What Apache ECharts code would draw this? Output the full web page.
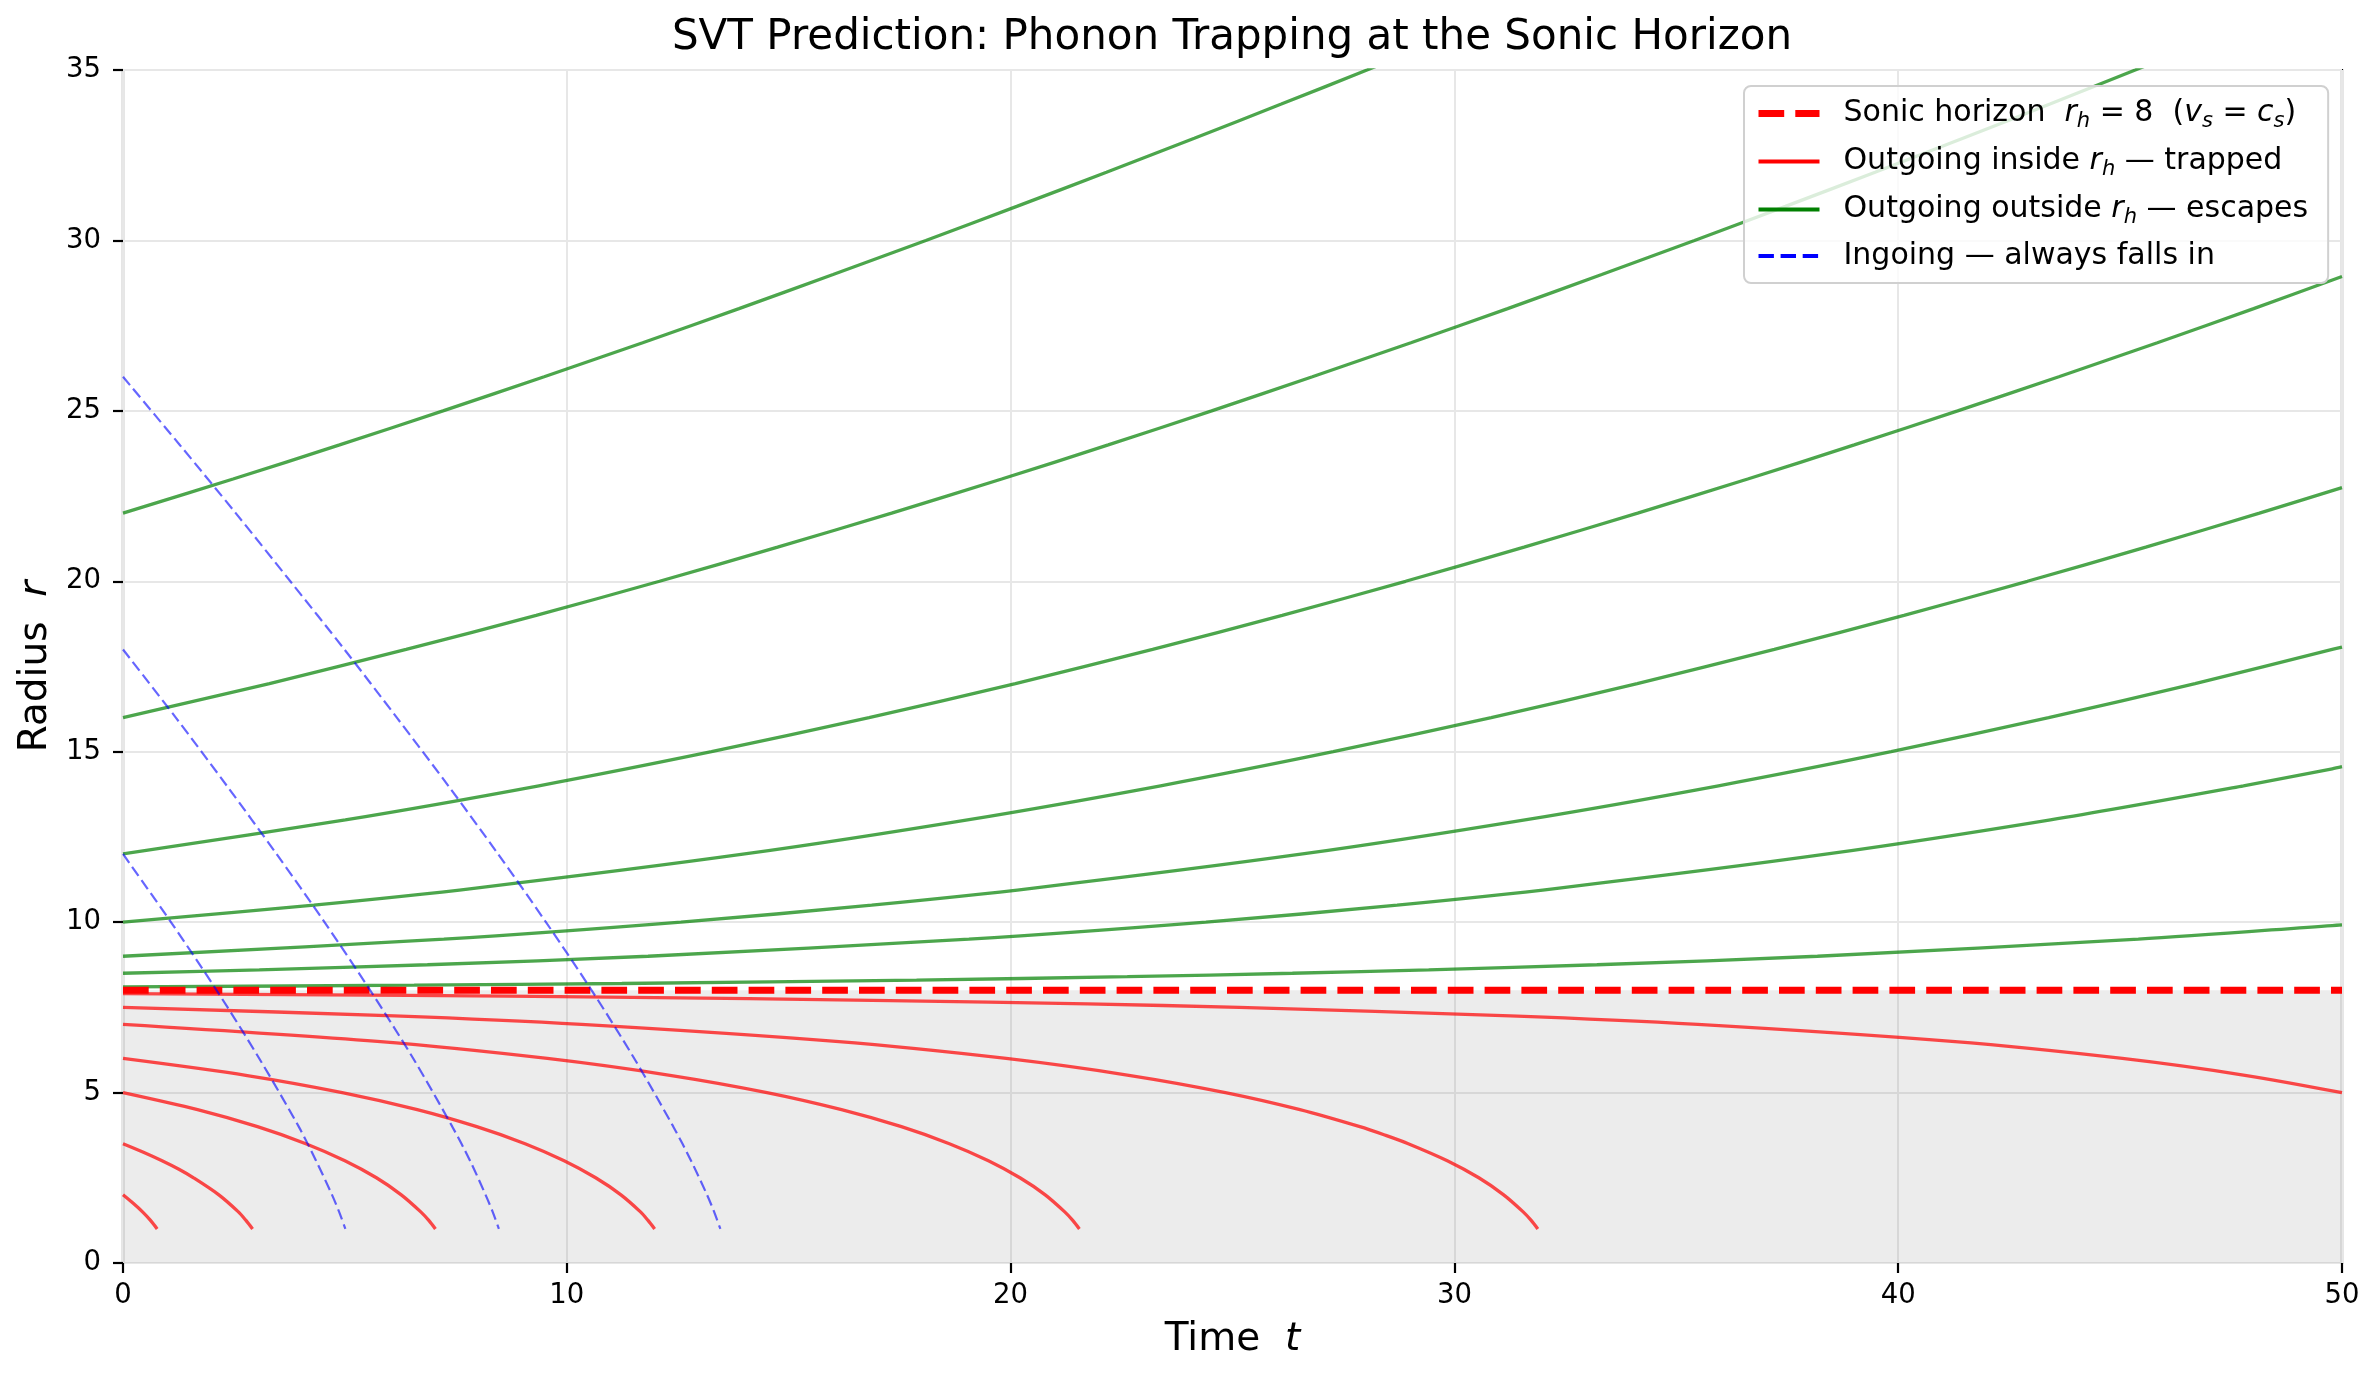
<!DOCTYPE html>
<html>
<head>
<meta charset="utf-8">
<script src="https://cdn.jsdelivr.net/npm/echarts@6/dist/echarts.min.js"></script>
<style>
html,body{margin:0;padding:0;background:#fff;}
#chart{width:2380px;height:1381px;}
</style>
</head>
<body>
<div id="chart"></div>
<script>
// ---- Data: [time t, radius r] ----
const horizonR = 8;
const horizonLine = [[0, 8], [50, 8]];

// Outgoing phonons starting outside r_h (escape)
const out_8_1 = [[0,8.1],[6.56,8.15],[11.24,8.2],[17.88,8.3],[22.63,8.4],[26.35,8.5],[29.42,8.6],[33.21,8.75],[38.18,9.0],[45.41,9.5],[49.78,9.9],[50,9.92]];
const out_8_5 = [[0,8.5],[3.07,8.6],[6.86,8.75],[11.83,9.0],[19.06,9.5],[24.40,10],[28.71,10.5],[32.36,11],[38.41,12],[43.43,13],[47.78,14],[49.78,14.5],[50,14.56]];
const out_9 = [[0,9],[7.23,9.5],[12.57,10],[16.87,10.5],[20.52,11],[26.58,12],[31.59,13],[35.95,14],[39.84,15],[43.39,16],[46.69,17],[49.78,18],[50,18.07]];
const out_10 = [[0,10],[4.30,10.5],[7.95,11],[14.01,12],[19.03,13],[23.38,14],[27.27,15],[30.83,16],[34.12,17],[37.21,18],[40.13,19],[42.91,20],[45.58,21],[48.14,22],[50,22.75]];
const out_12 = [[0,12],[5.01,13],[9.37,14],[13.26,15],[16.81,16],[20.11,17],[23.20,18],[26.12,19],[28.90,20],[31.57,21],[34.13,22],[36.61,23],[39.01,24],[41.34,25],[43.62,26],[45.84,27],[48.01,28],[50,28.94]];
const out_16 = [[0,16],[3.30,17],[6.38,18],[9.31,19],[12.09,20],[14.75,21],[17.32,22],[19.80,23],[22.20,24],[24.53,25],[26.80,26],[29.02,27],[31.20,28],[33.32,29],[35.41,30],[37.46,31],[39.48,32],[41.46,33],[43.42,34],[45.34,35],[47.25,36]];
const out_22 = [[0,22],[2.48,23],[4.88,24],[7.21,25],[9.49,26],[11.71,27],[13.88,28],[16.00,29],[18.09,30],[20.14,31],[22.16,32],[24.14,33],[26.10,34],[28.03,35],[29.93,36]];

// Outgoing phonons starting inside r_h (trapped)
const in_7_9 = [[0,7.9],[6.41,7.85],[10.94,7.8],[17.28,7.7],[21.73,7.6],[25.15,7.5],[31.26,7.25],[35.48,7.0],[41.21,6.5],[45.05,6.0],[47.85,5.5],[50,4.997]];
const in_7_5 = [[0,7.5],[6.11,7.25],[10.33,7],[16.06,6.5],[19.90,6],[22.70,5.5],[24.84,5],[26.52,4.5],[27.87,4],[28.44,3.75],[28.96,3.5],[29.84,3],[30.55,2.5],[31.11,2],[31.55,1.5],[31.73,1.25],[31.88,1]];
const in_7 = [[0,7],[5.73,6.5],[9.56,6],[12.36,5.5],[14.51,5],[16.19,4.5],[17.54,4],[18.62,3.5],[19.50,3],[20.21,2.5],[20.78,2],[21.22,1.5],[21.40,1.25],[21.55,1]];
const in_6 = [[0,6],[2.80,5.5],[4.94,5],[6.63,4.5],[7.97,4],[9.06,3.5],[9.94,3],[10.65,2.5],[11.22,2],[11.66,1.5],[11.83,1.25],[11.98,1]];
const in_5 = [[0,5],[1.68,4.5],[3.03,4],[4.12,3.5],[5.00,3],[5.71,2.5],[6.27,2],[6.71,1.5],[6.89,1.25],[7.04,1]];
const in_3_5 = [[0,3.5],[0.46,3.25],[0.88,3],[1.26,2.75],[1.59,2.5],[2.16,2],[2.60,1.5],[2.77,1.25],[2.92,1]];
const in_2 = [[0,2],[0.23,1.75],[0.44,1.5],[0.62,1.25],[0.77,1]];

// Ingoing phonons (always fall in)
const ing_26 = [[0,26],[1.28,24],[2.54,22],[3.77,20],[4.99,18],[6.17,16],[7.33,14],[8.45,12],[9.53,10],[10.56,8],[11.52,6],[12.40,4],[12.80,3],[13.16,2],[13.32,1.5],[13.46,1]];
const ing_18 = [[0,18],[1.19,16],[2.34,14],[3.46,12],[4.54,10],[5.57,8],[6.54,6],[7.42,4],[7.82,3],[8.17,2],[8.33,1.5],[8.47,1]];
const ing_12 = [[0,12],[1.08,10],[2.11,8],[3.07,6],[3.96,4],[4.35,3],[4.71,2],[4.87,1.5],[5.01,1]];

const escapeCurves = [out_8_1, out_8_5, out_9, out_10, out_12, out_16, out_22];
const trappedCurves = [in_7_9, in_7_5, in_7, in_6, in_5, in_3_5, in_2];
const ingoingCurves = [ing_26, ing_18, ing_12];

const xTicks = [0, 10, 20, 30, 40, 50];
const yTicks = [0, 5, 10, 15, 20, 25, 30, 35];

const NAME_H = 'Sonic horizon';
const NAME_IN = 'Outgoing inside';
const NAME_OUT = 'Outgoing outside';
const NAME_ING = 'Ingoing';

// ---- Chart ----
const FONT = 'DejaVu Sans';
const chart = echarts.init(document.getElementById('chart'), null, {renderer: 'canvas'});

const series = [];
series.push({
  type: 'line', name: '__fill', data: [], silent: true, z: 1,
  markArea: {silent: true, itemStyle: {color: 'rgba(128,128,128,0.15)'}, data: [[{yAxis: 0}, {yAxis: horizonR}]]}
});
escapeCurves.forEach(d => series.push({
  type: 'line', name: NAME_OUT, data: d, smooth: 0.3, showSymbol: false, symbol: 'none', z: 3,
  lineStyle: {color: '#008000', width: 3.3, opacity: 0.7}, itemStyle: {color: '#008000'}
}));
trappedCurves.forEach(d => series.push({
  type: 'line', name: NAME_IN, data: d, smooth: 0.3, showSymbol: false, symbol: 'none', z: 3,
  lineStyle: {color: '#ff0000', width: 3.3, opacity: 0.7}, itemStyle: {color: '#ff0000'}
}));
series.push({
  type: 'line', name: NAME_H, data: horizonLine, showSymbol: false, symbol: 'none', z: 4,
  lineStyle: {color: '#ff0000', width: 7, type: [25.7, 11.1]}, itemStyle: {color: '#ff0000'}
});
ingoingCurves.forEach(d => series.push({
  type: 'line', name: NAME_ING, data: d, smooth: 0.3, showSymbol: false, symbol: 'none', z: 5,
  lineStyle: {color: '#0000ff', width: 2.2, opacity: 0.6, type: [11, 5]}, itemStyle: {color: '#0000ff'}
}));

const txtBase = {fontFamily: FONT, color: '#000', fontSize: 30, lineHeight: 34};
const legendRich = {
  p: Object.assign({}, txtBase, {padding: [0, 0, 0, 19]}),
  n: Object.assign({}, txtBase),
  i: Object.assign({}, txtBase, {fontStyle: 'italic'}),
  s: {fontFamily: FONT, color: '#000', fontSize: 21, fontStyle: 'italic', lineHeight: 18, padding: [16, 0, 0, 0]}
};
const legendLabels = {};
legendLabels[NAME_H] = '{p|Sonic horizon  }{i|r}{s|h}{n| = 8  (}{i|v}{s|s}{n| = }{i|c}{s|s}{n|)}';
legendLabels[NAME_IN] = '{p|Outgoing inside }{i|r}{s|h}{n| — trapped}';
legendLabels[NAME_OUT] = '{p|Outgoing outside }{i|r}{s|h}{n| — escapes}';
legendLabels[NAME_ING] = '{p|Ingoing — always falls in}';

const option = {
  animation: false,
  backgroundColor: '#ffffff',
  title: {
    text: 'SVT Prediction: Phonon Trapping at the Sonic Horizon',
    left: 1232, top: 17, padding: 0, textAlign: 'center',
    textStyle: {fontFamily: FONT, fontSize: 42, fontWeight: 'normal', color: '#000'}
  },
  legend: {
    orient: 'vertical', left: 1744, top: 86,
    padding: [9, 20, 10, 11],
    itemWidth: 61, itemHeight: 14, itemGap: 11,
    backgroundColor: 'rgba(255,255,255,0.8)',
    borderColor: '#d0d0d0', borderWidth: 2, borderRadius: 7,
    selectedMode: false,
    itemStyle: {opacity: 0},
    data: [
      {name: NAME_H, lineStyle: {color: '#ff0000', width: 7, type: [25.7, 11.1], opacity: 1}, itemStyle: {opacity: 0}},
      {name: NAME_IN, lineStyle: {color: '#ff0000', width: 4.2, type: 'solid', opacity: 1}, itemStyle: {opacity: 0}},
      {name: NAME_OUT, lineStyle: {color: '#008000', width: 4.2, type: 'solid', opacity: 1}, itemStyle: {opacity: 0}},
      {name: NAME_ING, lineStyle: {color: '#0000ff', width: 4.2, type: [15.4, 6.7], opacity: 1}, itemStyle: {opacity: 0}}
    ],
    formatter: name => legendLabels[name],
    textStyle: Object.assign({}, txtBase, {rich: legendRich})
  },
  grid: {left: 123, right: 38, top: 70, bottom: 118, show: true, borderColor: '#000', borderWidth: 2.2, backgroundColor: 'transparent', outerBoundsMode: 'none', containLabel: false},
  xAxis: {
    type: 'value', min: xTicks[0], max: xTicks[xTicks.length - 1], interval: 10,
    name: '{n|Time  }{i|t}', nameLocation: 'middle', nameGap: 57,
    nameTextStyle: {fontFamily: FONT, fontSize: 39, color: '#000', rich: {
      n: {fontFamily: FONT, fontSize: 39, color: '#000'},
      i: {fontFamily: FONT, fontSize: 39, color: '#000', fontStyle: 'italic'}}},
    axisLine: {show: false},
    axisTick: {show: true, length: 10, lineStyle: {color: '#000', width: 2.2}},
    axisLabel: {fontFamily: FONT, fontSize: 27.5, color: '#000', margin: 19, showMinLabel: true, showMaxLabel: true},
    splitLine: {show: true, lineStyle: {color: '#e7e7e7', width: 2}}
  },
  yAxis: {
    type: 'value', min: yTicks[0], max: yTicks[yTicks.length - 1], interval: 5,
    name: '{n|Radius  }{i|r}', nameLocation: 'middle', nameGap: 64, nameRotate: 90,
    nameTextStyle: {fontFamily: FONT, fontSize: 39, color: '#000', rich: {
      n: {fontFamily: FONT, fontSize: 39, color: '#000'},
      i: {fontFamily: FONT, fontSize: 39, color: '#000', fontStyle: 'italic'}}},
    axisLine: {show: false},
    axisTick: {show: true, length: 10, lineStyle: {color: '#000', width: 2.2}},
    axisLabel: {fontFamily: FONT, fontSize: 27.5, color: '#000', margin: 22, showMinLabel: true, showMaxLabel: true},
    splitLine: {show: true, lineStyle: {color: '#e7e7e7', width: 2}}
  },
  series: series
};
chart.setOption(option);
</script>
</body>
</html>
